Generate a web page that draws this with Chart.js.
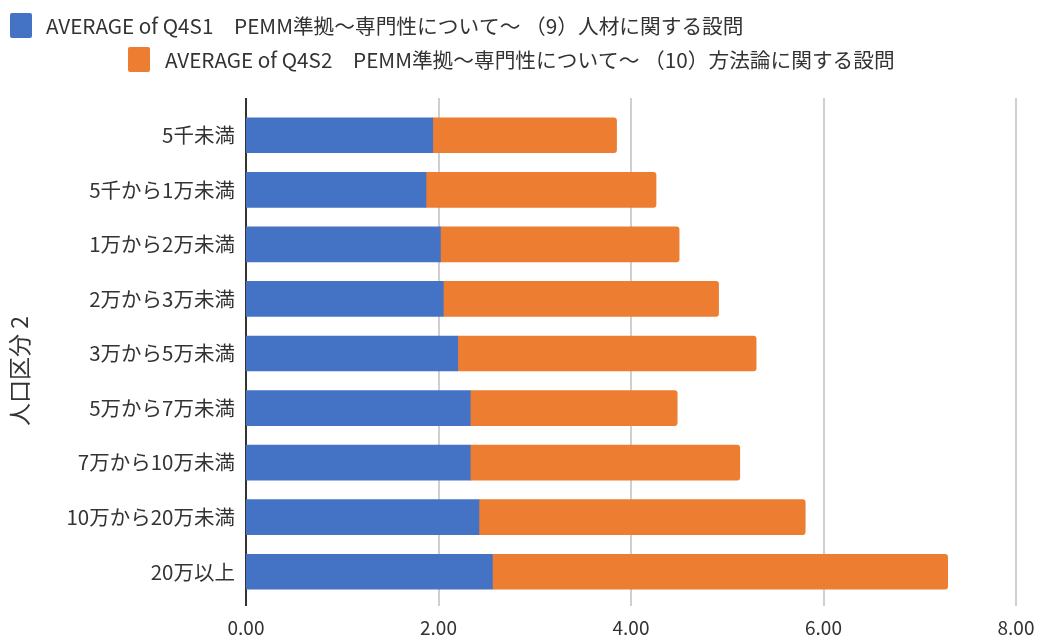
<!DOCTYPE html>
<html>
<head>
<meta charset="utf-8">
<script src="https://cdn.jsdelivr.net/npm/chart.js@4/dist/chart.umd.min.js"></script>
<style>
  body { margin: 0; background: #fff; }
  #wrap { width: 1037px; height: 641px; position: relative; }
</style>
</head>
<body>
<div id="wrap"><canvas id="diagram"></canvas></div>
<script>
// 人口区分ごとの平均値
var categories = ['5千未満', '5千から1万未満', '1万から2万未満', '2万から3万未満', '3万から5万未満',
                  '5万から7万未満', '7万から10万未満', '10万から20万未満', '20万以上'];
var q4s1 = [1.94, 1.87, 2.02, 2.05, 2.20, 2.33, 2.33, 2.42, 2.56];
var q4s2 = [1.91, 2.39, 2.48, 2.86, 3.10, 2.15, 2.80, 3.39, 4.73];
var seriesNames = ['AVERAGE of Q4S1\u3000PEMM準拠～専門性について～ （9）人材に関する設問',
                   'AVERAGE of Q4S2\u3000PEMM準拠～専門性について～ （10）方法論に関する設問'];
var xTicks = [0, 2, 4, 6, 8];
var yTitle = '人口区分 2';

var FONT = "'Noto Sans CJK JP', 'Noto Sans', sans-serif";
Chart.defaults.font.family = FONT;
Chart.defaults.color = '#333';

// vertical grid lines, a bit taller than the plot area
var gridLines = {
  id: 'gridLines',
  beforeDatasetsDraw: function(chart) {
    var ctx = chart.ctx, x = chart.scales.x, area = chart.chartArea;
    ctx.save();
    ctx.lineWidth = 2;
    x.ticks.forEach(function(t) {
      var px = Math.round(x.getPixelForValue(t.value));
      ctx.strokeStyle = t.value === 0 ? '#333' : '#cfcfcf';
      ctx.beginPath();
      ctx.moveTo(px, area.top - 10);
      ctx.lineTo(px, area.bottom + 7);
      ctx.stroke();
    });
    ctx.restore();
  }
};

// two-row legend (second row indented) and the rotated axis title
var legendRows = [{ x: 10, y: 13, textX: 46 }, { x: 128, y: 47, textX: 165 }];
var sideLegend = {
  id: 'sideLegend',
  afterDraw: function(chart) {
    var ctx = chart.ctx;
    ctx.save();
    chart.data.datasets.forEach(function(ds, i) {
      var row = legendRows[i];
      ctx.fillStyle = ds.backgroundColor;
      ctx.beginPath();
      ctx.roundRect(row.x, row.y, 22, 25, 2);
      ctx.fill();
      ctx.fillStyle = '#333';
      ctx.font = '20.7px ' + FONT;
      ctx.textBaseline = 'middle';
      ctx.fillText(ds.label, row.textX, row.y + 13);
    });

    ctx.translate(19, 371);
    ctx.rotate(-Math.PI / 2);
    ctx.font = '23px ' + FONT;
    ctx.textAlign = 'center';
    ctx.textBaseline = 'middle';
    ctx.fillStyle = '#333';
    ctx.fillText(yTitle, 0, 0);
    ctx.restore();
  }
};

new Chart(document.getElementById('diagram'), {
  type: 'bar',
  data: {
    labels: categories,
    datasets: [{
      label: seriesNames[0],
      data: q4s1,
      backgroundColor: '#4472C4',
      borderWidth: 0
    }, {
      label: seriesNames[1],
      data: q4s2,
      backgroundColor: '#ED7D31',
      borderWidth: 0,
      borderRadius: 3
    }]
  },
  options: {
    indexAxis: 'y',
    responsive: true,
    maintainAspectRatio: false,
    animation: false,
    layout: { padding: { top: 108, right: 21, bottom: 0, left: 0 } },
    datasets: { bar: { barThickness: 35 } },
    plugins: {
      legend: { display: false },
      tooltip: { enabled: false }
    },
    scales: {
      x: {
        stacked: true,
        min: 0,
        max: 8,
        afterBuildTicks: function(scale) {
          scale.ticks = xTicks.map(function(v) { return { value: v }; });
        },
        afterFit: function(scale) {
          scale.height = 42;
          scale.paddingLeft = 0;
          scale.paddingRight = 0;
        },
        grid: { display: false, drawTicks: false },
        border: { display: false },
        ticks: {
          padding: 17,
          font: { size: 19 },
          callback: function(v) { return Number(v).toFixed(2); }
        }
      },
      y: {
        stacked: true,
        afterFit: function(scale) { scale.width = 246; },
        grid: { display: false, drawTicks: false },
        border: { display: false },
        ticks: { padding: 11, font: { size: 20.5 } }
      }
    }
  },
  plugins: [gridLines, sideLegend]
});
</script>
</body>
</html>
